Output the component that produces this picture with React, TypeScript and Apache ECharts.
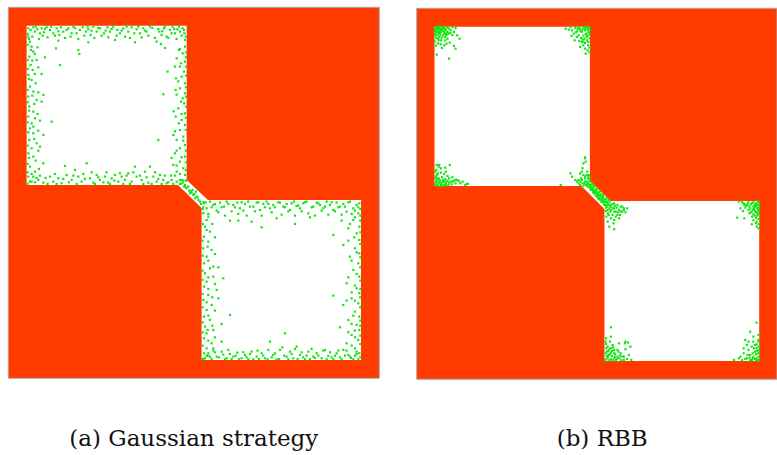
import React, { useEffect, useRef } from "react";
import * as echarts from "echarts";

// Workspace extent (same for both planners)
const WORKSPACE_MIN = 0;
const WORKSPACE_MAX = 1113;

// Free space: two square rooms joined by a narrow diagonal passage (y grows downward)
const FREE_X = [55, 535, 535, 599, 1058, 1058, 580, 580, 509, 55];
const FREE_Y = [55, 55, 518, 578, 578, 1058, 1058, 602, 533, 533];

const CAPTIONS = ["(a) Gaussian strategy", "(b) RBB"];

// Samples kept by the Gaussian sampling strategy
const GAUSSIAN_SAMPLES: number[][] = [
  // upper room, top wall
  [60, 63], [67, 68], [75, 60], [80, 73], [87, 66], [95, 78], [100, 63], [107, 75], [115, 60], [125, 68],
  [135, 78], [145, 63], [153, 83], [165, 73], [180, 63], [187, 88], [195, 58], [205, 78], [215, 68], [223, 60],
  [233, 73], [240, 66], [247, 83], [255, 58], [265, 73], [275, 63], [287, 78], [297, 60], [305, 73], [315, 58],
  [320, 98], [327, 68], [335, 78], [345, 63], [360, 73], [370, 60], [385, 66], [395, 78], [405, 63], [415, 73],
  [425, 58], [445, 103], [453, 73], [460, 83], [467, 63], [475, 88], [485, 68], [493, 58], [500, 78], [507, 66],
  [515, 73], [523, 63], [528, 78], [530, 98],
  [58, 80], [62, 95], [72, 88], [83, 58], [92, 95], [103, 85], [110, 65], [118, 90], [128, 58], [140, 85],
  [150, 72], [158, 60], [170, 92], [175, 68], [190, 78], [200, 62], [210, 95], [228, 85], [238, 58], [250, 70],
  [258, 92], [270, 62], [280, 85], [292, 70], [300, 90], [310, 65], [325, 85], [340, 70], [350, 88], [355, 58],
  [365, 92], [378, 78], [390, 58], [400, 90], [410, 70], [420, 85], [432, 62], [440, 92], [450, 65], [462, 72],
  [470, 58], [480, 92], [490, 78], [498, 65], [505, 95], [512, 58], [520, 85], [527, 68], [533, 88], [458, 110],
  [470, 122], [515, 125], [380, 105], [240, 105], [150, 100], [88, 120],
  // upper room, left wall
  [60, 88], [65, 103], [70, 118], [75, 133], [63, 148], [85, 158], [67, 173], [73, 188], [60, 203], [70, 218],
  [65, 238], [75, 253], [60, 268], [85, 278], [105, 263], [63, 298], [75, 313], [60, 328], [80, 333], [70, 348],
  [65, 363], [75, 378], [105, 383], [63, 398], [85, 408], [70, 423], [95, 418], [60, 438], [75, 448], [105, 468],
  [65, 478], [80, 493], [60, 508], [70, 523],
  [58, 112], [68, 128], [80, 140], [58, 158], [72, 160], [90, 180], [58, 185], [80, 200], [62, 215], [82, 228],
  [58, 248], [72, 265], [90, 255], [58, 285], [78, 290], [62, 310], [88, 320], [58, 345], [75, 358], [90, 370],
  [60, 375], [78, 395], [58, 415], [90, 430], [62, 452], [82, 460], [58, 470], [92, 485], [70, 500], [58, 495],
  [85, 512], [110, 150], [100, 200], [95, 340],
  // upper room, right wall
  [530, 118], [523, 138], [505, 153], [530, 163], [515, 178], [527, 193], [478, 193], [520, 208], [503, 213], [530, 228],
  [515, 243], [530, 258], [502, 248], [523, 273], [528, 288], [510, 303], [530, 318], [502, 328], [520, 338], [530, 353],
  [515, 368], [495, 383], [525, 388], [505, 398], [530, 413], [515, 423], [500, 438], [530, 448], [515, 463], [495, 473],
  [525, 483], [505, 493], [530, 503], [520, 518],
  [533, 135], [512, 128], [533, 150], [518, 168], [533, 178], [500, 178], [533, 205], [510, 222], [533, 240], [505, 262],
  [533, 268], [518, 283], [533, 298], [496, 312], [520, 320], [533, 332], [512, 348], [533, 368], [500, 372], [525, 400],
  [533, 430], [505, 430], [520, 450], [533, 465], [490, 452], [505, 475], [533, 488], [515, 500], [533, 520], [488, 505],
  // upper room, bottom wall
  [65, 523], [75, 508], [90, 518], [105, 526], [125, 508], [135, 523], [150, 513], [160, 528], [170, 476], [175, 503],
  [190, 518], [200, 488], [210, 508], [220, 523], [235, 468], [245, 513], [255, 526], [265, 503], [275, 518], [290, 508],
  [300, 526], [310, 513], [320, 503], [330, 523], [340, 508], [350, 518], [360, 498], [370, 523], [380, 478], [385, 508],
  [400, 518], [410, 493], [420, 526], [425, 478], [435, 508], [445, 523], [455, 503], [465, 518], [475, 528], [490, 518],
  [505, 523],
  [58, 530], [80, 525], [95, 505], [112, 512], [118, 530], [140, 500], [145, 530], [165, 515], [182, 525], [195, 505],
  [205, 530], [225, 500], [230, 515], [250, 495], [260, 530], [270, 510], [285, 525], [295, 495], [305, 530], [318, 520],
  [335, 498], [345, 530], [355, 505], [365, 530], [375, 495], [395, 505], [405, 530], [415, 510], [430, 530], [440, 495],
  [450, 515], [460, 530], [470, 505], [480, 525], [495, 530], [500, 505], [515, 530], [525, 520],
  // upper room, interior
  [143, 123], [155, 173], [213, 140], [210, 128], [130, 343], [465, 261], [450, 398], [100, 283],
  // passage
  [515, 518], [523, 526], [530, 533], [535, 543], [543, 550], [550, 556], [555, 563], [565, 568], [570, 578], [575, 583],
  [540, 538], [553, 548], [560, 573], [545, 558], [527, 538], [563, 553],
  [518, 530], [532, 540], [548, 552], [558, 560], [568, 570], [578, 590], [585, 585],
  // lower room, top wall
  [587, 588], [595, 603], [605, 583], [615, 593], [625, 610], [635, 586], [647, 598], [655, 583], [665, 640], [675, 593],
  [687, 586], [695, 603], [710, 590], [720, 583], [730, 643], [735, 598], [745, 586], [755, 608], [765, 590], [775, 583],
  [785, 603], [795, 593], [805, 633], [815, 586], [825, 598], [835, 590], [845, 608], [857, 583], [865, 596], [875, 603],
  [885, 588], [895, 583], [905, 630], [915, 598], [925, 586], [935, 593], [945, 603], [955, 583], [965, 593], [975, 608],
  [985, 586], [995, 598], [1005, 590], [1015, 613], [1025, 583], [1035, 603], [1045, 593], [1053, 588],
  [585, 600], [592, 585], [600, 620], [610, 600], [620, 590], [630, 615], [640, 600], [650, 625], [660, 590], [670, 612],
  [680, 600], [690, 620], [700, 585], [705, 610], [715, 625], [725, 598], [740, 612], [750, 585], [760, 625], [770, 600],
  [780, 590], [790, 615], [800, 600], [810, 585], [820, 622], [830, 600], [840, 612], [850, 588], [860, 625], [870, 595],
  [880, 612], [890, 585], [900, 618], [910, 600], [920, 625], [930, 588], [940, 610], [950, 598], [960, 622], [970, 585],
  [980, 612], [990, 600], [1000, 622], [1010, 598], [1020, 585], [1030, 620], [1040, 610], [1050, 600], [1056, 625], [1000, 640],
  [760, 660], [690, 640], [860, 650],
  // lower room, left wall
  [585, 618], [595, 638], [590, 658], [605, 673], [587, 688], [600, 703], [585, 723], [610, 728], [595, 748], [587, 768],
  [605, 783], [590, 798], [615, 808], [595, 823], [587, 838], [625, 848], [600, 863], [585, 878], [610, 893], [595, 908],
  [587, 928], [605, 938], [590, 958], [615, 968], [595, 978], [587, 993], [610, 1008], [595, 1023], [587, 1038], [605, 1048],
  [645, 813], [630, 873], [665, 923], [640, 1003],
  [583, 605], [600, 628], [612, 650], [583, 650], [595, 668], [620, 690], [583, 700], [598, 718], [620, 740], [583, 745],
  [600, 760], [615, 778], [583, 790], [600, 810], [583, 818], [620, 830], [600, 845], [583, 860], [612, 870], [595, 885],
  [583, 900], [620, 910], [600, 925], [583, 945], [612, 955], [598, 968], [583, 975], [620, 990], [600, 1000], [583, 1015],
  [615, 1030], [598, 1045], [583, 1055], [630, 780], [640, 950],
  // lower room, right wall
  [1050, 618], [1035, 638], [1053, 658], [1020, 663], [1045, 678], [975, 683], [1053, 698], [1005, 713], [1040, 723], [1053, 738],
  [1025, 748], [1050, 768], [1035, 788], [1053, 808], [1015, 828], [1045, 843], [1053, 858], [975, 865], [1030, 873], [1050, 888],
  [1005, 893], [1040, 913], [1053, 928], [1020, 938], [1045, 953], [1053, 968], [1030, 983], [1050, 998], [1015, 1008], [1040, 1023],
  [1053, 1038], [1025, 1048],
  [1056, 605], [1040, 630], [1056, 640], [1025, 650], [1056, 675], [1038, 690], [1056, 710], [1020, 700], [1045, 735], [1056, 750],
  [1030, 760], [1056, 780], [1045, 800], [1020, 810], [1056, 820], [1040, 835], [1056, 845], [1030, 855], [1056, 870], [1040, 880],
  [1015, 880], [1056, 900], [1035, 925], [1056, 940], [1030, 950], [1056, 955], [1040, 970], [1020, 975], [1056, 985], [1040, 990],
  [1056, 1010], [1030, 1015], [1056, 1050], [1045, 1040], [995, 960],
  // lower room, bottom wall
  [590, 1053], [600, 1038], [615, 1023], [625, 1048], [640, 1033], [655, 1053], [665, 1040], [675, 1048], [687, 1036], [700, 1053],
  [710, 1043], [720, 1056], [730, 1033], [745, 1048], [760, 1038], [770, 1053], [785, 1003], [795, 1043], [805, 1056], [815, 1028],
  [830, 978], [835, 1048], [845, 1033], [855, 1053], [865, 1018], [875, 1043], [890, 1056], [900, 1033], [915, 1048], [925, 1038],
  [940, 1053], [950, 1028], [960, 1046], [975, 1056], [985, 1038], [995, 1050], [1005, 1028], [1020, 1043], [1035, 1056], [1045, 1033],
  [585, 1056], [595, 1045], [610, 1055], [620, 1035], [632, 1050], [645, 1042], [650, 1056], [660, 1028], [670, 1055], [682, 1045],
  [692, 1056], [705, 1035], [715, 1050], [725, 1040], [735, 1056], [748, 1030], [752, 1055], [765, 1045], [778, 1056], [780, 1028],
  [790, 1050], [800, 1038], [812, 1055], [822, 1020], [828, 1045], [840, 1056], [850, 1040], [860, 1025], [868, 1055], [880, 1035],
  [885, 1050], [895, 1045], [905, 1056], [910, 1025], [920, 1052], [930, 1045], [945, 1030], [955, 1056], [965, 1035], [970, 1050],
  [980, 1045], [990, 1030], [1000, 1056], [1010, 1045], [1015, 1030], [1028, 1052], [1040, 1045], [1050, 1056],
];

// Samples kept by the RBB planner
const RBB_SAMPLES: number[][] = [
  // upper room, top-left corner
  [60, 56], [65, 59], [70, 55], [75, 61], [62, 66], [68, 71], [80, 63], [85, 58], [90, 66], [58, 76],
  [73, 79], [82, 81], [88, 86], [95, 71], [100, 61], [105, 66], [110, 56], [115, 71], [120, 59], [125, 81],
  [132, 91], [102, 103], [92, 106], [85, 111], [115, 113], [120, 121], [78, 119], [62, 139], [100, 151], [70, 86],
  [65, 91], [75, 96], [95, 91], [60, 61], [66, 63], [72, 69], [78, 56], [84, 71], [90, 76], [56, 69], [64, 81],
  [58, 58], [62, 62], [57, 65], [68, 58], [72, 62], [76, 66], [80, 58], [63, 72], [69, 76], [57, 80],
  [74, 72], [82, 68], [86, 76], [60, 88], [68, 95], [78, 88], [92, 80], [98, 76], [88, 62], [94, 58],
  [104, 74], [110, 80], [56, 100], [66, 105], [74, 108], [88, 96], [60, 112],
  // upper room, top-right corner
  [460, 61], [475, 56], [480, 66], [485, 76], [490, 59], [495, 69], [500, 81], [505, 61], [510, 71], [515, 56],
  [520, 66], [525, 76], [530, 59], [532, 71], [525, 86], [518, 91], [510, 101], [515, 111], [505, 116], [520, 121],
  [530, 101], [528, 126], [495, 86], [478, 83], [488, 96], [500, 56], [522, 57], [534, 57], [508, 89], [530, 111],
  [534, 62], [528, 65], [524, 58], [518, 60], [512, 64], [506, 68], [498, 62], [492, 72], [534, 78], [528, 82],
  [522, 78], [515, 82], [534, 90], [526, 96], [520, 104], [534, 118], [512, 94], [502, 98], [470, 64], [534, 132],
  [522, 136], [515, 100],
  // upper room, bottom-left corner
  [62, 470], [68, 475], [102, 470], [60, 485], [65, 495], [75, 493], [85, 497], [90, 490], [95, 503], [60, 505],
  [68, 510], [78, 507], [88, 513], [100, 510], [110, 507], [115, 517], [125, 515], [60, 520], [70, 523], [80, 520],
  [90, 525], [100, 523], [65, 528], [75, 530], [85, 529], [120, 525], [135, 525], [158, 527], [62, 513], [72, 517],
  [82, 515], [105, 520], [95, 517], [58, 525], [155, 527],
  [57, 490], [58, 510], [63, 520], [70, 515], [76, 525], [84, 520], [92, 520], [58, 530], [66, 532], [74, 532],
  [82, 532], [90, 531], [98, 530], [108, 528], [112, 520], [120, 515], [62, 500], [75, 480], [88, 478], [130, 518],
  [142, 520], [150, 530], [70, 470],
  // around the passage
  [520, 447], [522, 460], [475, 495], [480, 505], [490, 515], [495, 520], [505, 495], [510, 490], [515, 500], [520, 510],
  [525, 520], [530, 525], [535, 530], [540, 535], [545, 540], [550, 545], [555, 550], [560, 555], [565, 560], [570, 565],
  [575, 570], [580, 575], [585, 580], [590, 585], [595, 590], [600, 595], [610, 585], [620, 590], [630, 595], [640, 600],
  [635, 610], [625, 605], [600, 605], [590, 615], [605, 620], [510, 515], [518, 525], [528, 535], [538, 545], [548, 555],
  [558, 565], [568, 575], [578, 585], [588, 595], [505, 520], [500, 525], [520, 505], [530, 513], [534, 520], [546, 530],
  [556, 540], [566, 550], [576, 560], [586, 570], [592, 575], [535, 540], [545, 547], [555, 557], [565, 567], [575, 577],
  [525, 500], [512, 480], [508, 510], [585, 590], [595, 600], [610, 600], [615, 610], [520, 450], [515, 465], [445, 530],
  [640, 605], [610, 635], [595, 655], [610, 663],
  [527, 490], [532, 500], [534, 510], [530, 505], [520, 520], [522, 530], [526, 528], [532, 532], [537, 538], [542, 542],
  [547, 548], [552, 552], [556, 546], [560, 560], [562, 552], [566, 562], [570, 558], [572, 572], [576, 566], [580, 580],
  [583, 572], [588, 582], [592, 588], [596, 580], [598, 592], [604, 588], [606, 600], [612, 592], [618, 598], [622, 612],
  [630, 610], [628, 620], [615, 625], [600, 630], [608, 645], [625, 630], [635, 595], [645, 612], [650, 600], [590, 640],
  [586, 625], [598, 610], [540, 528], [548, 535], [500, 515], [512, 525], [515, 532], [505, 530], [560, 570], [575, 582],
  [585, 598], [590, 605], [593, 620], [610, 610], [620, 620], [584, 608], [545, 552], [553, 562], [563, 572], [570, 580],
  [580, 590],
  // lower room, top-right corner
  [995, 580], [1010, 585], [1018, 590], [1025, 582], [1032, 588], [1040, 582], [1048, 585], [1055, 580], [1015, 598], [1030, 600],
  [1040, 595], [1050, 592], [1056, 598], [1035, 610], [1045, 608], [1055, 605], [1028, 615], [1040, 618], [1052, 615], [1056, 610],
  [1048, 628], [990, 628], [1012, 630], [1035, 648], [1048, 645], [1050, 655], [1056, 660], [1020, 592], [1042, 602], [1052, 622],
  [1056, 582], [1050, 586], [1044, 590], [1036, 584], [1028, 594], [1022, 586], [1012, 590], [1005, 582], [1056, 590], [1052, 600],
  [1046, 596], [1038, 604], [1032, 612], [1025, 605], [1056, 618], [1048, 612], [1044, 622], [1036, 625], [1056, 632], [1050, 640],
  [1040, 636], [1000, 600], [1008, 608], [1056, 648],
  // lower room, bottom-left corner
  [600, 957], [597, 1000], [605, 1010], [585, 1007], [590, 1015], [595, 1023], [587, 1030], [600, 1033], [610, 1025], [593, 1040],
  [603, 1043], [613, 1037], [620, 1045], [590, 1050], [600, 1053], [610, 1050], [625, 1005], [643, 1005], [653, 1003], [660, 1015],
  [645, 1023], [630, 1035], [635, 1045], [655, 1040], [663, 1055], [640, 1055], [587, 1043], [583, 1053], [615, 1055], [623, 1030],
  [607, 1017],
  [583, 1000], [586, 1020], [592, 1028], [597, 1038], [604, 1028], [584, 1035], [590, 1045], [596, 1056], [606, 1056], [612, 1045],
  [618, 1052], [626, 1050], [632, 1056], [583, 1056], [600, 1020], [610, 1035], [620, 1025], [628, 1042], [640, 1045], [650, 1052],
  [585, 990], [600, 985], [645, 1000],
  // lower room, bottom-right corner
  [1050, 943], [1030, 970], [1015, 995], [1040, 1000], [1055, 995], [1020, 1010], [1035, 1015], [1050, 1020], [1025, 1025], [1045, 1030],
  [1055, 1035], [1010, 1035], [1030, 1040], [1040, 1045], [1050, 1050], [1020, 1050], [1035, 1055], [1055, 1055], [1000, 1045], [980, 1055],
  [1045, 1010], [1010, 1020], [1056, 1025],
  [1056, 1000], [1050, 1008], [1056, 1015], [1042, 1020], [1048, 1038], [1056, 1045], [1052, 1028], [1038, 1035], [1028, 1048], [1045, 1052],
  [1056, 1056], [1038, 1050], [1030, 1056], [1048, 1056], [1022, 1040], [1015, 1052], [1005, 1056], [1040, 985], [1056, 980], [1025, 1000],
  [995, 1050],
];

const OBSTACLE_COLOR = "#ff3b00";
const FREE_COLOR = "#ffffff";
const SAMPLE_COLOR = "#12e612";
const FRAME_COLOR = "#ababab";
const CAPTION_FONT = "'DejaVu Serif', serif";

const PANEL_SIZE = 371;
const PANELS = [
  { left: 8.3, top: 7.3, samples: GAUSSIAN_SAMPLES },
  { left: 416.7, top: 8.3, samples: RBB_SAMPLES },
];

export default function App() {
  const ref = useRef<HTMLDivElement>(null);

  useEffect(() => {
    if (!ref.current) return;
    const chart = echarts.init(ref.current, null, { renderer: "svg" });

    const grids = PANELS.map((p) => ({
      left: p.left,
      top: p.top,
      width: PANEL_SIZE,
      height: PANEL_SIZE,
      show: true,
      backgroundColor: OBSTACLE_COLOR,
      borderColor: FRAME_COLOR,
      borderWidth: 1,
      containLabel: false,
    }));

    const axisBase = {
      type: "value" as const,
      min: WORKSPACE_MIN,
      max: WORKSPACE_MAX,
      show: false,
      splitLine: { show: false },
    };

    const series: any[] = [];
    PANELS.forEach((p, i) => {
      series.push({
        type: "custom",
        xAxisIndex: i,
        yAxisIndex: i,
        data: [0],
        z: 2,
        silent: true,
        renderItem: (_params: any, api: any) => {
          const points = FREE_X.map((x, k) => api.coord([x, FREE_Y[k]]));
          return {
            type: "polygon",
            shape: { points },
            style: { fill: FREE_COLOR, stroke: null },
          };
        },
      });
      series.push({
        type: "scatter",
        xAxisIndex: i,
        yAxisIndex: i,
        data: p.samples,
        symbol: "rect",
        symbolSize: 2.2,
        z: 3,
        silent: true,
        itemStyle: { color: SAMPLE_COLOR, opacity: 1 },
      });
    });

    const captionCenters = PANELS.map((p) => p.left + PANEL_SIZE / 2);

    chart.setOption({
      animation: false,
      backgroundColor: "#ffffff",
      grid: grids,
      xAxis: PANELS.map((_, i) => ({ ...axisBase, gridIndex: i })),
      yAxis: PANELS.map((_, i) => ({ ...axisBase, gridIndex: i, inverse: true })),
      series,
      title: CAPTIONS.map((text, i) => ({
        text,
        left: captionCenters[i],
        top: 426,
        padding: 0,
        textAlign: "center",
        textStyle: {
          color: "#111111",
          fontFamily: CAPTION_FONT,
          fontWeight: "normal",
          fontSize: 23,
        },
      })),
    });

    return () => chart.dispose();
  }, []);

  return (
    <div
      ref={ref}
      style={{ position: "absolute", left: 0, top: 0, width: 777, height: 455 }}
    />
  );
}
